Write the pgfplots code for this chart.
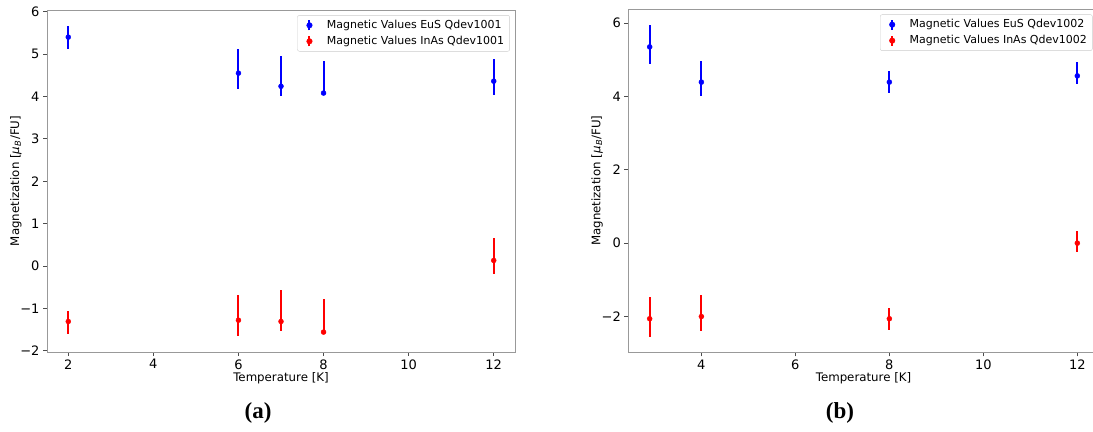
\documentclass[border=0pt]{standalone}
\usepackage{pgfplots}
\pgfplotsset{compat=1.18}
\usepackage{fontspec}
\setmainfont{DejaVu Sans}
\newfontfamily\timesfont{Liberation Serif}
\definecolor{spine}{gray}{0.6}
\begin{document}
\begin{tikzpicture}
\fill[white] (0,0) rectangle (1093bp,432bp);
\useasboundingbox (0,0) rectangle (1093bp,432bp);
\pgfplotsset{
  mystyle/.style={
    scale only axis,
    axis line style={spine, line width=0.8bp},
    tick align=outside,
    major tick length=4bp,
    tick style={black!70, line width=0.8bp},
    xtick pos=bottom, ytick pos=left,
    ticklabel style={font=\fontsize{13bp}{15bp}\selectfont},
    label style={font=\fontsize{11.8bp}{13bp}\selectfont},
    xlabel={Temperature [K]},
    ylabel={Magnetization [\textit{μ}\kern0.5pt\textsubscript{\textit{B}}/FU]},
    xlabel style={yshift=4bp},
    ylabel style={yshift=-8bp},
    legend style={font=\fontsize{11bp}{13bp}\selectfont, draw=black!20, rounded corners=2bp,
      cells={anchor=west}, inner xsep=3bp, inner ysep=2bp, row sep=0bp,
      nodes={inner sep=2.5bp, text height=8.5bp, text depth=2.5bp}},
    legend image code/.code={\path[draw=none,fill=none] (0bp,0bp) rectangle (24bp,0.1bp);
      \draw[line width=2bp] (9bp,-5bp)--(9bp,5bp); \fill (9bp,0bp) circle (2.8bp);},
  },
  ebar/.style={only marks, mark=*, mark size=2.5bp, color=#1,
    error bars/.cd, y dir=both, y explicit, error mark=none,
    error bar style={line width=2bp, color=#1}},
}
\begin{axis}[mystyle,
  at={(47bp,80bp)}, anchor=south west,
  width=468bp, height=342bp,
  xmin=1.5, xmax=12.5, ymin=-2.03, ymax=6.04,
  xtick={2,4,6,8,10,12},
  xticklabels={2,4,6,8,10,12},
  ytick={-2,-1,0,1,2,3,4,5,6},
  yticklabels={−2,−1,0,1,2,3,4,5,6},
  legend style={at={(0.989,0.985)}, anchor=north east},
]
\addplot[ebar=blue] coordinates {
  (2,5.40) += (0,0.27) -= (0,0.27)
  (6,4.55) += (0,0.57) -= (0,0.38)
  (7,4.24) += (0,0.72) -= (0,0.23)
  (8,4.08) += (0,0.76) -= (0,0.04)
  (12,4.36) += (0,0.52) -= (0,0.32)
};
\addlegendentry{Magnetic Values EuS Qdev1001}
\addplot[ebar=red] coordinates {
  (2,-1.31) += (0,0.24) -= (0,0.29)
  (6,-1.28) += (0,0.59) -= (0,0.38)
  (7,-1.31) += (0,0.74) -= (0,0.22)
  (8,-1.56) += (0,0.78) -= (0,0.05)
  (12,0.13) += (0,0.52) -= (0,0.32)
};
\addlegendentry{Magnetic Values InAs Qdev1001}
\end{axis}
\begin{axis}[mystyle,
  at={(628.3bp,79.7bp)}, anchor=south west,
  width=470.4bp, height=343bp,
  xmin=2.445, xmax=12.455, ymin=-2.975, ymax=6.375,
  xtick={4,6,8,10,12},
  xticklabels={4,6,8,10,12},
  ytick={-2,0,2,4,6},
  yticklabels={−2,0,2,4,6},
  legend style={at={(0.987,0.985)}, anchor=north east},
]
\addplot[ebar=blue] coordinates {
  (2.9,5.35) += (0,0.60) -= (0,0.47)
  (4,4.39) += (0,0.58) -= (0,0.38)
  (8,4.39) += (0,0.29) -= (0,0.31)
  (12,4.56) += (0,0.37) -= (0,0.22)
};
\addlegendentry{Magnetic Values EuS Qdev1002}
\addplot[ebar=red] coordinates {
  (2.9,-2.06) += (0,0.58) -= (0,0.49)
  (4,-2.00) += (0,0.58) -= (0,0.39)
  (8,-2.06) += (0,0.28) -= (0,0.30)
  (12,0.00) += (0,0.34) -= (0,0.25)
};
\addlegendentry{Magnetic Values InAs Qdev1002}
\end{axis}
\node[font=\timesfont\bfseries\fontsize{23bp}{26bp}\selectfont] at (258bp,19bp) {(a)};
\node[font=\timesfont\bfseries\fontsize{23bp}{26bp}\selectfont] at (840bp,19bp) {(b)};
\end{tikzpicture}
\end{document}
